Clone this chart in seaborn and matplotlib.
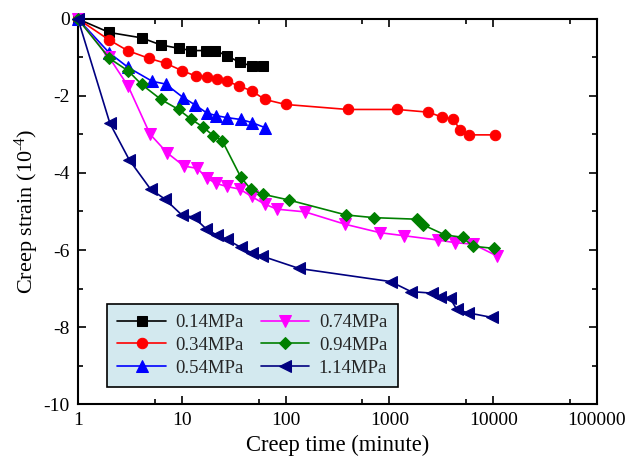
import numpy as np
import pandas as pd
import seaborn as sns
import matplotlib
matplotlib.use("Agg")
import matplotlib.pyplot as plt
from matplotlib.ticker import FixedLocator, NullFormatter

# ---- data ----
labels = ["0.14MPa", "0.34MPa", "0.54MPa", "0.74MPa", "0.94MPa", "1.14MPa"]

t_014 = [1, 2, 4.1, 6.3, 9.3, 12.4, 17, 21, 27, 36.4, 47.4, 61]
s_014 = [0, -0.35, -0.49, -0.675, -0.76, -0.82, -0.82, -0.82, -0.95, -1.13, -1.22, -1.22]

t_034 = [1, 2, 3, 4.8, 7, 10, 13.6, 17.4, 21.7, 27, 35.6, 47.4, 63, 100, 396, 1190, 2370, 3235, 4130, 4790, 5890, 10500]
s_034 = [0, -0.545, -0.82, -1.02, -1.15, -1.34, -1.48, -1.5, -1.56, -1.61, -1.74, -1.87, -2.09, -2.22, -2.35, -2.35, -2.42, -2.55, -2.6, -2.88, -3.01, -3.01]

t_054 = [1, 2, 3.05, 5.2, 7, 10.3, 13.4, 17.4, 21.4, 27, 36.9, 47.4, 63]
s_054 = [0, -0.88, -1.26, -1.62, -1.69, -2.04, -2.23, -2.44, -2.51, -2.56, -2.61, -2.69, -2.82]

t_074 = [1, 2, 3.05, 4.94, 7.25, 10.5, 14.1, 17.6, 21.4, 27, 36.3, 47, 63, 83, 154, 373, 811, 1393, 2915, 4320, 6430, 10800]
s_074 = [0, -1.0, -1.75, -2.99, -3.48, -3.82, -3.88, -4.14, -4.27, -4.35, -4.42, -4.61, -4.81, -4.94, -5.01, -5.33, -5.55, -5.63, -5.74, -5.81, -5.85, -6.15]

t_094 = [1, 2, 3.05, 4.1, 6.3, 9.3, 12.4, 15.9, 20.1, 24.5, 36.9, 46, 60, 107, 382, 711, 1832, 2125, 3435, 5080, 6330, 10230]
s_094 = [0, -1.02, -1.35, -1.7, -2.09, -2.35, -2.61, -2.8, -3.03, -3.16, -4.1, -4.42, -4.55, -4.7, -5.09, -5.16, -5.2, -5.35, -5.61, -5.67, -5.9, -5.96]

t_114 = [1, 2.03, 3.12, 5.0, 6.9, 10, 13.1, 17.3, 21.7, 27, 36.9, 47, 59.5, 135, 1028, 1615, 2553, 3076, 3840, 4450, 5680, 9670]
s_114 = [0, -2.71, -3.66, -4.42, -4.68, -5.09, -5.15, -5.46, -5.61, -5.72, -5.93, -6.07, -6.16, -6.48, -6.82, -7.08, -7.12, -7.21, -7.25, -7.54, -7.63, -7.75]

x_ticks = [1, 10, 100, 1000, 10000, 100000]
x_ticklabels = ["1", "10", "100", "1000", "10000", "100000"]
y_ticks = [0, -2, -4, -6, -8, -10]
y_ticklabels = ["0", "-2", "-4", "-6", "-8", "-10"]

times = [t_014, t_034, t_054, t_074, t_094, t_114]
strains = [s_014, s_034, s_054, s_074, s_094, s_114]

rows = []
for lab, ts, ss in zip(labels, times, strains):
    for i, (t, s) in enumerate(zip(ts, ss)):
        rows.append({"Stress": lab, "Time": t, "Strain": s, "idx": i})
df = pd.DataFrame(rows)

colors = ["#000000", "#ff0000", "#0000ff", "#ff00ff", "#008000", "#000080"]
markers = ["s", "o", "^", "v", "D", "<"]
msizes = [6.5, 7.5, 8, 8, 6.5, 8]

# ---- style ----
sns.set_theme(style="ticks")
plt.rcParams["font.family"] = ["Liberation Serif", "DejaVu Serif"]
plt.rcParams["mathtext.fontset"] = "custom"
plt.rcParams["mathtext.rm"] = "Liberation Serif"
plt.rcParams["mathtext.it"] = "Liberation Serif:italic"
plt.rcParams["axes.unicode_minus"] = False

fig = plt.figure(figsize=(6.32, 4.63), dpi=100)
ax = fig.add_axes([0.1234, 0.1274, 0.8212, 0.8316])

for lab, c, m, ms in zip(labels, colors, markers, msizes):
    sub = df[df["Stress"] == lab]
    sns.lineplot(data=sub, x="Time", y="Strain", ax=ax, color=c, marker=m,
                 markersize=ms, markeredgecolor=c, linewidth=1.2, sort=False,
                 estimator=None, label=lab, clip_on=False, zorder=3)

ax.set_xscale("log")
ax.set_xlim(1, 100000)
ax.set_ylim(-10, 0)

ax.xaxis.set_major_locator(FixedLocator(x_ticks))
ax.set_xticklabels(x_ticklabels)
ax.xaxis.set_minor_locator(FixedLocator([5.5 * 10 ** k for k in range(5)]))
ax.xaxis.set_minor_formatter(NullFormatter())
ax.yaxis.set_major_locator(FixedLocator(y_ticks))
ax.set_yticklabels(y_ticklabels)
ax.yaxis.set_minor_locator(FixedLocator([-1, -3, -5, -7, -9]))

ax.tick_params(which="both", direction="in", top=True, right=True,
               color="black", width=1.2, labelsize=14, labelcolor="black", pad=6)
ax.tick_params(which="major", length=6)
ax.tick_params(which="minor", length=3.5)
for sp in ax.spines.values():
    sp.set_linewidth(1.5)
    sp.set_color("black")

ax.set_xlabel("Creep time (minute)", fontsize=16.3, color="black", labelpad=4)
ax.set_ylabel(r"Creep strain (10$^{\text{-}4}$)", fontsize=16, color="black", labelpad=2)

leg = ax.legend(loc="lower left", bbox_to_anchor=(0.056, 0.044), borderaxespad=0,
                ncol=2, fontsize=13.5, frameon=True, fancybox=False,
                handlelength=2.6, columnspacing=0.9, labelspacing=0.3,
                borderpad=0.55, handletextpad=0.5)
frame = leg.get_frame()
frame.set_facecolor("#d3e9ef")
frame.set_edgecolor("black")
frame.set_linewidth(1.2)
frame.set_alpha(1)

fig.savefig("out.png", dpi=100)
